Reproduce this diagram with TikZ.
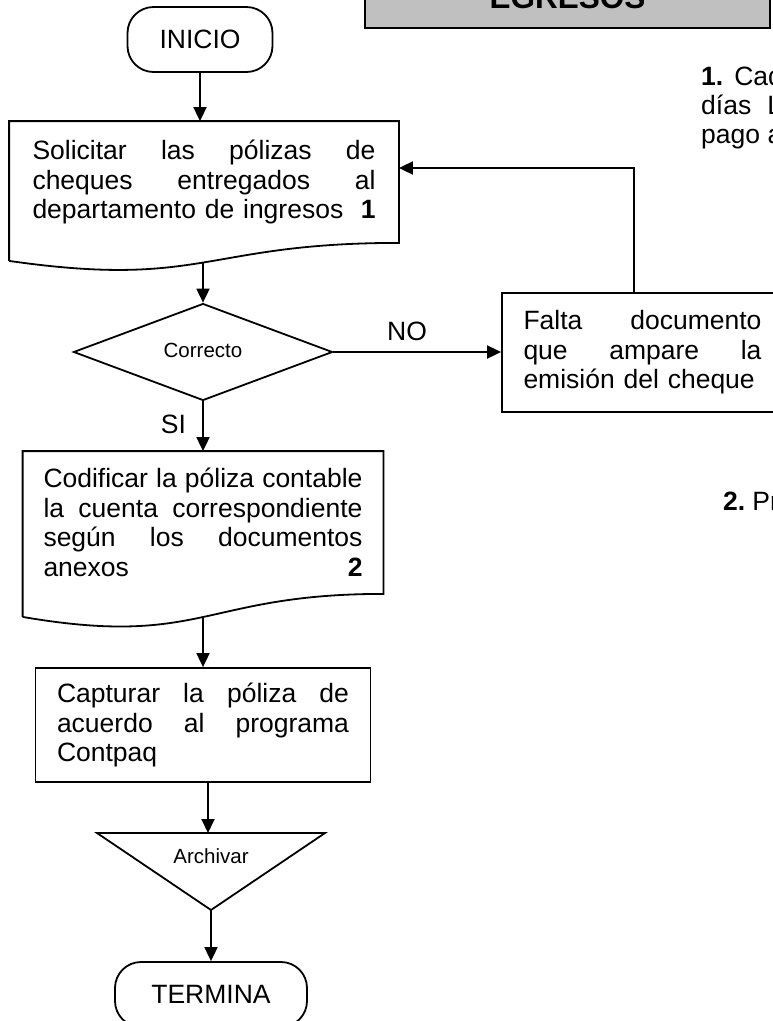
\documentclass[tikz,border=0pt]{standalone}
\usepackage{fontspec}
\setmainfont{Liberation Sans}
\usetikzlibrary{shapes.geometric}
\usetikzlibrary{arrows.meta}
\usetikzlibrary{calc}
\definecolor{gris1}{RGB}{192, 192, 192}
\newcommand{\linea}[2]{\makebox[#1][s]{\spaceskip=0.278em plus 1fil\relax #2}}

\begin{document}
\begin{tikzpicture}[x=1pt, y=-1pt, line width=1.8pt,
  every node/.style={font=\fontsize{26.5}{29.5}\selectfont},
  caja/.style={rectangle, draw, inner sep=0pt, align=left},
  hoja/.style={rectangle, inner sep=0pt, align=left},
  term/.style={rectangle, draw, rounded corners=26pt, minimum height=65pt, inner sep=0pt},
  chica/.style={font=\fontsize{20.5}{24}\selectfont},
  flecha/.style={-{Triangle[length=14pt,width=13pt]}}]
  \useasboundingbox (0,0) rectangle (773,1021);
  % titulo
  \node[draw, fill=gris1, minimum width=405pt, minimum height=60pt, font=\bfseries\fontsize{31.5}{36}\selectfont] (tit) at (567.5,-2) {EGRESOS};
  \node[term, minimum width=145pt] (inicio) at (200,39.5) {INICIO};
  \node[hoja, text width=343pt, minimum width=388pt, minimum height=120pt] (sol) at (204,182)
    {\linea{343pt}{Solicitar las pólizas de}\\ \linea{343pt}{cheques entregados al}\\ \mbox{departamento de ingresos\ \ \textbf{1}}};
  \draw ([yshift=-18pt]sol.south west) -- (sol.north west) -- (sol.north east) -- (sol.south east)
    .. controls (sol.south) and ([yshift=-46pt]sol.south) .. ([yshift=-18pt]sol.south west);
  \coordinate (solb) at ([yshift=-19.5pt]sol.south);
  \node[diamond, draw, chica, minimum width=259pt, minimum height=96pt, inner sep=0pt] (cor) at (203,352) {\raisebox{4pt}{Correcto}};
  \node[caja, text width=238pt, minimum width=281pt, minimum height=119pt] (falta) at (642.5,352.5)
    {\linea{238pt}{Falta documento}\\ \linea{238pt}{que ampare la}\\ emisión del cheque};
  \node[anchor=base] (no) at (407,340) {NO};
  \node[anchor=base] (si) at (173.5,433) {SI};
  \node[hoja, text width=319pt, minimum width=359pt, minimum height=141pt] (cod) at (203,522.5)
    {\linea{319pt}{Codificar la póliza contable}\\ \linea{319pt}{la cuenta correspondiente}\\ \linea{319pt}{según los documentos}\\ \linea{319pt}{anexos \textbf{2}}};
  \draw ([yshift=-23pt]cod.south west) -- (cod.north west) -- (cod.north east) -- (cod.south east)
    .. controls (cod.south) and ([yshift=-54pt]cod.south) .. ([yshift=-23pt]cod.south west);
  \coordinate (codb) at ([yshift=-23pt]cod.south);
  \node[caja, text width=292pt, minimum width=335pt, minimum height=114pt] (cap) at (203,725)
    {\linea{292pt}{Capturar la póliza de}\\ \linea{292pt}{acuerdo al programa}\\ Contpaq};
  % archivo
  \node[chica] (arch) at (211,856) {Archivar};
  \coordinate (archa) at (208,833);
  \coordinate (archb) at (211,910);
  \draw (97,833) -- (325,833) -- (archb) -- cycle;
  \node[term, minimum width=192pt] (fin) at (211,994.5) {TERMINA};
  % notas
  \node[anchor=base west] (n1) at (697,85) {\textbf{1.}\hspace{11pt}Cad};
  \node[anchor=base west] (n1b) at (697,114) {días\hspace{16pt}L};
  \node[anchor=base west] (n1c) at (697,143) {pago a};
  \node[anchor=base west] (n2) at (719,510) {\textbf{2.}\hspace{7pt}Pr};
  % flechas
  \draw[flecha] (inicio.south) -- (inicio.south |- sol.north);
  \draw[flecha] (cor.north |- solb) -- (cor.north);
  \draw[flecha] (cor.east) -- (cor.east -| falta.west);
  \draw[flecha] (cor.south) -- (cod.north);
  \draw[flecha] (codb) -- (cap.north);
  \draw[flecha] (cap.south -| archa) -- (archa);
  \draw[flecha] (archb) -- (fin.north);
  \coordinate (ret) at (634,168);
  \draw[flecha] (ret |- falta.north) -- (ret) -- (ret -| sol.east);
\end{tikzpicture}
\end{document}
